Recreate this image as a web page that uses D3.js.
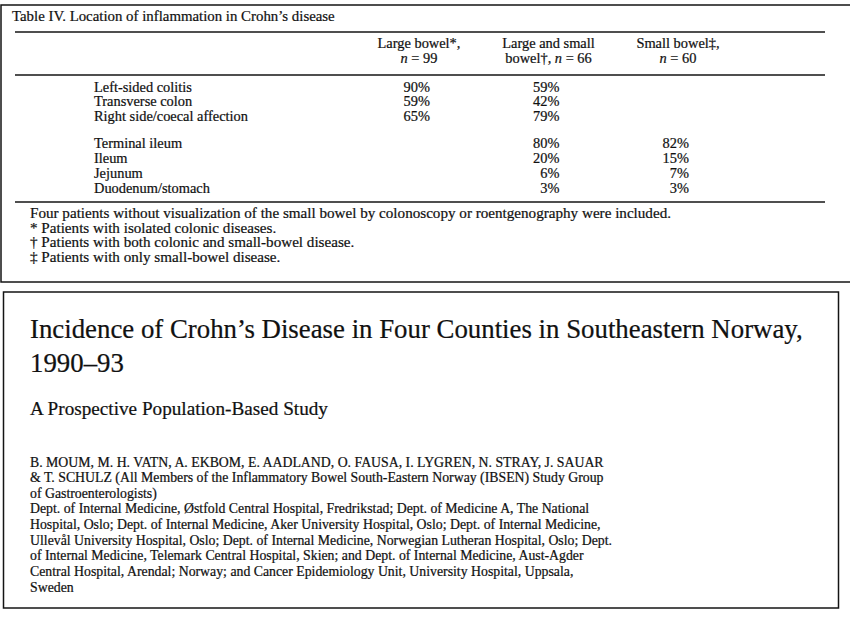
<!DOCTYPE html>
<html>
<head>
<meta charset="utf-8">
<script src="https://cdn.jsdelivr.net/npm/d3@7"></script>
<style>
  html, body { margin: 0; padding: 0; background: #fff; }
  svg { display: block; }
  text { font-family: "Liberation Serif", "Times New Roman", "DejaVu Serif", serif; fill: #111; stroke: #111; stroke-width: 0.22px; }
</style>
</head>
<body>
<svg id="chart" width="850" height="618"></svg>
<script>
// ---------------- DATA ----------------
const tableTitle = "Table IV. Location of inflammation in Crohn\u2019s disease";
const columnKeys = ["large", "both", "small"];
const columnHeadLine1 = ["Large bowel*,", "Large and small", "Small bowel\u2021,"];
const columnHeadLine2Pre = ["", "bowel\u2020, ", ""];
const columnN = [99, 66, 60];
const rowLabels = [
  "Left-sided colitis",
  "Transverse colon",
  "Right side/coecal affection",
  "Terminal ileum",
  "Ileum",
  "Jejunum",
  "Duodenum/stomach"
];
const rowGroup = [0, 0, 0, 1, 1, 1, 1];
const largeBowel = [90, 59, 65, null, null, null, null];
const largeAndSmall = [59, 42, 79, 80, 20, 6, 3];
const smallBowel = [null, null, null, 82, 15, 7, 3];
const footnotes = [
  "Four patients without visualization of the small bowel by colonoscopy or roentgenography were included.",
  "* Patients with isolated colonic diseases.",
  "\u2020 Patients with both colonic and small-bowel disease.",
  "\u2021 Patients with only small-bowel disease."
];
const articleTitle = [
  "Incidence of Crohn\u2019s Disease in Four Counties in Southeastern Norway,",
  "1990\u201393"
];
const articleSubtitle = "A Prospective Population-Based Study";
const authorLines = [
  "B. MOUM, M. H. VATN, A. EKBOM, E. AADLAND, O. FAUSA, I. LYGREN, N. STRAY, J. SAUAR",
  "& T. SCHULZ (All Members of the Inflammatory Bowel South-Eastern Norway (IBSEN) Study Group",
  "of Gastroenterologists)",
  "Dept. of Internal Medicine, \u00d8stfold Central Hospital, Fredrikstad; Dept. of Medicine A, The National",
  "Hospital, Oslo; Dept. of Internal Medicine, Aker University Hospital, Oslo; Dept. of Internal Medicine,",
  "Ullev\u00e5l University Hospital, Oslo; Dept. of Internal Medicine, Norwegian Lutheran Hospital, Oslo; Dept.",
  "of Internal Medicine, Telemark Central Hospital, Skien; and Dept. of Internal Medicine, Aust-Agder",
  "Central Hospital, Arendal; Norway; and Cancer Epidemiology Unit, University Hospital, Uppsala,",
  "Sweden"
];

// ---------------- DRAW ----------------
const svg = d3.select("#chart");
const ink = "#141414";

// helper: size font so that a reference string has a target width
function fitSize(str, target, weight) {
  const t = svg.append("text").attr("font-size", 100).attr("font-weight", weight || "normal").text(str);
  const w = t.node().getComputedTextLength();
  t.remove();
  return 100 * target / w;
}

// ---- boxes ----
svg.append("rect").attr("x", 1).attr("y", 5).attr("width", 900).attr("height", 277)
  .attr("fill", "none").attr("stroke", ink).attr("stroke-width", 1.5);
svg.append("rect").attr("x", 3.5).attr("y", 292).attr("width", 835).attr("height", 316)
  .attr("fill", "none").attr("stroke", ink).attr("stroke-width", 1.5);

// ---- table ----
const titleSize = fitSize(tableTitle, 323);
svg.append("text").attr("x", 12).attr("y", 21).attr("font-size", titleSize).text(tableTitle);

const ruleX = [15, 825];
[32, 75, 202].forEach(yy => {
  svg.append("line").attr("x1", ruleX[0]).attr("x2", ruleX[1]).attr("y1", yy).attr("y2", yy)
    .attr("stroke", ink).attr("stroke-width", 1.6);
});

const bodySize = fitSize(rowLabels[0], 98);

const x = d3.scalePoint().domain(columnKeys).range([419, 678]);
const valueOffset = 11;

// headers
const heads = svg.append("g").attr("font-size", bodySize);
columnKeys.forEach((k, i) => {
  heads.append("text").attr("x", x(k)).attr("y", 48).attr("text-anchor", "middle").text(columnHeadLine1[i]);
  const t2 = heads.append("text").attr("x", x(k)).attr("y", 62.5).attr("text-anchor", "middle");
  if (columnHeadLine2Pre[i]) t2.append("tspan").text(columnHeadLine2Pre[i]);
  t2.append("tspan").attr("font-style", "italic").text("n");
  t2.append("tspan").text(" = " + columnN[i]);
});

// rows
const gapSlots = 0.75;
const slot = rowLabels.map((d, i) => i + rowGroup[i] * gapSlots);
const y = d3.scaleLinear().domain([0, d3.max(slot)]).range([91.5, 192.5]);

const body = svg.append("g").attr("font-size", bodySize);
body.selectAll("text.label").data(rowLabels).join("text")
  .attr("class", "label").attr("x", 94).attr("y", (d, i) => y(slot[i])).text(d => d);

const seriesByKey = { large: largeBowel, both: largeAndSmall, small: smallBowel };
columnKeys.forEach(k => {
  const vals = seriesByKey[k].map((v, i) => ({ v, i })).filter(d => d.v !== null);
  body.selectAll("text.v-" + k).data(vals).join("text")
    .attr("class", "v-" + k)
    .attr("x", x(k) + valueOffset)
    .attr("y", d => y(slot[d.i]))
    .attr("text-anchor", "end")
    .text(d => d.v + "%");
});

// footnotes
const footSize = fitSize(footnotes[0], 642);
svg.append("g").attr("font-size", footSize)
  .selectAll("text").data(footnotes).join("text")
  .attr("x", 30).attr("y", (d, i) => 218 + i * 14.7).text(d => d);

// ---- article header ----
const headSize = fitSize(articleTitle[0], 773);
svg.append("text").attr("x", 30).attr("y", 338).attr("font-size", headSize).text(articleTitle[0]);
svg.append("text").attr("x", 30).attr("y", 372).attr("font-size", headSize).text(articleTitle[1]);

const subSize = fitSize(articleSubtitle, 298);
svg.append("text").attr("x", 30).attr("y", 415).attr("font-size", subSize).text(articleSubtitle);

const authSize = fitSize(authorLines[0], 574);
svg.append("g").attr("font-size", authSize)
  .selectAll("text").data(authorLines).join("text")
  .attr("x", 30).attr("y", (d, i) => 466.5 + i * 15.65).text(d => d);
</script>
</body>
</html>
